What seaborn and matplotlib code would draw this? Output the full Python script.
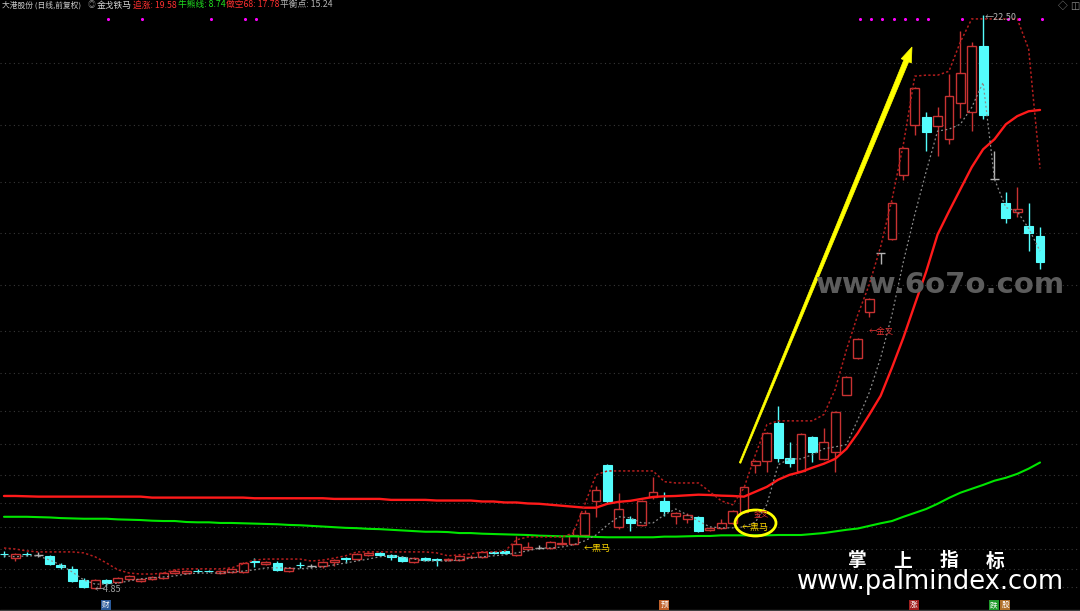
import matplotlib
matplotlib.use("Agg")
import matplotlib.pyplot as plt
import numpy as np
import pandas as pd
import seaborn as sns
from matplotlib.patches import Ellipse, Polygon

# ---- data (daily candles, 大港股份) ----
opens = [5.93, 5.80, 5.93, 5.90, 5.87, 5.59, 5.47, 5.13, 4.88, 5.13,
         5.07, 5.16, 5.10, 5.16, 5.19, 5.34, 5.34, 5.40, 5.40, 5.34,
         5.37, 5.37, 5.69, 5.62, 5.65, 5.40, 5.59, 5.56, 5.56, 5.68,
         5.78, 5.77, 5.90, 5.96, 5.90, 5.84, 5.68, 5.80, 5.77, 5.74,
         5.74, 5.83, 5.84, 5.99, 6.02, 5.90, 6.08, 6.11, 6.11, 6.24,
         6.24, 6.51, 7.56, 8.67, 6.76, 7.01, 6.82, 7.68, 7.56, 7.10,
         7.01, 7.07, 6.67, 6.73, 6.88, 7.22, 8.67, 8.79, 9.96, 8.88,
         8.48, 9.53, 8.85, 9.07, 10.83, 11.96, 13.38, 15.17, 15.60, 17.57,
         19.11, 19.36, 19.08, 18.68, 19.79, 19.51, 21.54, 17.45, 16.71, 16.43,
         16.00, 15.69]
highs = [6.02, 5.96, 5.99, 5.99, 5.90, 5.65, 5.56, 5.19, 5.16, 5.16,
         5.22, 5.28, 5.19, 5.25, 5.37, 5.47, 5.43, 5.47, 5.44, 5.43,
         5.50, 5.68, 5.80, 5.71, 5.71, 5.53, 5.68, 5.62, 5.71, 5.77,
         5.84, 5.96, 5.99, 5.99, 5.93, 5.87, 5.84, 5.84, 5.80, 5.80,
         5.90, 5.90, 6.02, 6.02, 6.05, 6.48, 6.30, 6.21, 6.33, 6.45,
         6.70, 7.28, 8.02, 8.70, 7.81, 7.10, 7.59, 8.30, 7.84, 7.22,
         7.19, 7.10, 6.76, 7.01, 7.28, 8.02, 8.82, 9.68, 10.49, 9.38,
         9.65, 9.56, 9.81, 10.33, 11.41, 12.58, 13.81, 15.17, 16.74, 18.43,
         20.28, 19.51, 19.66, 20.68, 22.01, 21.67, 22.50, 18.31, 17.05, 17.20,
         16.71, 15.97]
lows = [5.84, 5.71, 5.87, 5.84, 5.59, 5.47, 5.07, 4.88, 4.85, 4.94,
        5.04, 5.13, 5.07, 5.13, 5.16, 5.31, 5.31, 5.34, 5.36, 5.31,
        5.34, 5.34, 5.53, 5.59, 5.40, 5.37, 5.50, 5.50, 5.50, 5.56,
        5.65, 5.74, 5.87, 5.87, 5.74, 5.68, 5.65, 5.71, 5.56, 5.71,
        5.71, 5.80, 5.80, 5.93, 5.93, 5.87, 6.05, 6.08, 6.08, 6.21,
        6.21, 6.45, 7.07, 7.50, 6.70, 6.64, 6.79, 7.62, 7.10, 6.85,
        6.88, 6.61, 6.64, 6.70, 6.85, 7.19, 8.42, 8.45, 8.76, 8.61,
        8.45, 8.76, 8.82, 8.45, 10.80, 11.93, 13.20, 14.83, 15.57, 17.42,
        18.80, 18.31, 18.16, 18.53, 19.33, 18.93, 19.30, 17.45, 16.09, 16.28,
        15.23, 14.68]
closes = [5.92, 5.93, 5.92, 5.90, 5.62, 5.53, 5.10, 4.91, 5.13, 5.03,
          5.19, 5.25, 5.16, 5.22, 5.34, 5.40, 5.40, 5.39, 5.39, 5.40,
          5.47, 5.65, 5.68, 5.68, 5.44, 5.50, 5.58, 5.56, 5.68, 5.74,
          5.77, 5.93, 5.96, 5.90, 5.84, 5.71, 5.80, 5.74, 5.74, 5.77,
          5.87, 5.84, 5.99, 5.96, 5.96, 6.24, 6.14, 6.11, 6.30, 6.27,
          6.51, 7.19, 7.90, 7.56, 7.31, 6.88, 7.56, 7.84, 7.25, 7.19,
          7.13, 6.64, 6.73, 6.88, 7.25, 7.99, 8.79, 9.65, 8.88, 8.73,
          9.62, 9.07, 9.38, 10.30, 11.38, 12.55, 13.78, 15.17, 16.71, 18.40,
          20.25, 18.89, 19.39, 20.00, 20.71, 21.54, 19.42, 17.45, 16.25, 16.52,
          15.81, 14.92]

# indicator lines
zhuizhang = [7.71, 7.71, 7.70, 7.69, 7.69, 7.69, 7.69, 7.69, 7.69, 7.69,
             7.69, 7.69, 7.69, 7.66, 7.66, 7.66, 7.66, 7.66, 7.66, 7.66,
             7.66, 7.66, 7.64, 7.64, 7.64, 7.64, 7.64, 7.64, 7.64, 7.62,
             7.62, 7.62, 7.62, 7.62, 7.59, 7.59, 7.59, 7.59, 7.57, 7.57,
             7.57, 7.57, 7.54, 7.54, 7.51, 7.51, 7.48, 7.47, 7.44, 7.41,
             7.38, 7.35, 7.35, 7.47, 7.53, 7.56, 7.62, 7.68, 7.70, 7.71,
             7.73, 7.75, 7.74, 7.72, 7.71, 7.69, 7.84, 7.99, 8.21, 8.36,
             8.45, 8.58, 8.70, 8.85, 9.16, 9.65, 10.21, 10.79, 11.66, 12.58,
             13.60, 14.61, 15.75, 16.46, 17.14, 17.82, 18.37, 18.68, 19.14, 19.39,
             19.54, 19.58]
niuxiong = [7.07, 7.07, 7.07, 7.06, 7.05, 7.03, 7.02, 7.01, 7.01, 7.01,
            6.99, 6.98, 6.97, 6.95, 6.94, 6.94, 6.91, 6.90, 6.90, 6.88,
            6.88, 6.87, 6.86, 6.85, 6.84, 6.82, 6.81, 6.79, 6.77, 6.75,
            6.73, 6.72, 6.70, 6.69, 6.67, 6.65, 6.63, 6.61, 6.61, 6.60,
            6.57, 6.57, 6.55, 6.54, 6.53, 6.52, 6.51, 6.49, 6.48, 6.47,
            6.47, 6.46, 6.45, 6.44, 6.44, 6.44, 6.44, 6.44, 6.46, 6.46,
            6.47, 6.48, 6.48, 6.50, 6.50, 6.50, 6.50, 6.50, 6.51, 6.51,
            6.51, 6.54, 6.57, 6.62, 6.67, 6.71, 6.79, 6.87, 6.94, 7.07,
            7.19, 7.31, 7.47, 7.65, 7.81, 7.93, 8.05, 8.18, 8.27, 8.39,
            8.55, 8.74]
zuokong68 = [6.11, 6.08, 6.02, 5.99, 5.99, 5.99, 5.99, 5.96, 5.84, 5.65,
             5.44, 5.34, 5.31, 5.31, 5.34, 5.44, 5.47, 5.47, 5.47, 5.47,
             5.50, 5.62, 5.74, 5.77, 5.77, 5.77, 5.77, 5.71, 5.74, 5.80,
             5.87, 5.99, 5.99, 5.99, 5.99, 5.99, 5.99, 5.99, 5.96, 5.87,
             5.90, 5.93, 5.99, 5.99, 6.02, 6.36, 6.45, 6.45, 6.45, 6.45,
             6.57, 7.44, 8.36, 8.48, 8.48, 8.48, 8.48, 8.48, 8.15, 8.11,
             8.11, 8.11, 7.84, 7.56, 7.44, 7.96, 8.98, 9.90, 10.02, 10.02,
             10.02, 10.02, 10.21, 10.98, 12.21, 13.29, 14.21, 15.38, 16.83, 18.53,
             20.62, 20.65, 20.65, 20.77, 21.67, 22.38, 22.38, 22.38, 22.38, 22.38,
             21.45, 17.78]
pinghengdian = [5.87, 5.84, 5.87, 5.87, 5.74, 5.59, 5.37, 5.13, 5.00, 5.00,
                5.03, 5.10, 5.16, 5.19, 5.22, 5.25, 5.31, 5.34, 5.34, 5.34,
                5.37, 5.40, 5.44, 5.50, 5.50, 5.50, 5.47, 5.50, 5.53, 5.59,
                5.65, 5.71, 5.77, 5.84, 5.87, 5.84, 5.77, 5.71, 5.71, 5.71,
                5.74, 5.80, 5.84, 5.87, 5.90, 5.96, 6.02, 6.11, 6.11, 6.14,
                6.21, 6.33, 6.51, 6.82, 7.07, 7.04, 6.88, 6.88, 7.13, 7.31,
                7.13, 6.94, 6.76, 6.73, 6.73, 6.76, 6.91, 7.44, 8.67, 8.85,
                8.85, 8.98, 9.16, 9.22, 9.29, 10.06, 10.89, 11.96, 13.29, 14.92,
                16.37, 17.69, 18.93, 18.99, 19.14, 19.66, 20.43, 17.45, 16.58, 16.46,
                15.94, 15.24]

grid_levels = [21.02, 19.12, 17.36, 15.80, 14.20, 12.78, 11.49, 10.32, 9.31,
               8.35, 7.50, 6.76, 6.08, 5.47, 4.91]
signal_days = [9, 12, 18, 21, 22, 75, 76, 77, 78, 79, 80, 81, 84, 88, 89, 91]

df = pd.DataFrame({"open": opens, "high": highs, "low": lows, "close": closes,
                   "zz": zhuizhang, "nx": niuxiong, "zk": zuokong68,
                   "phd": pinghengdian})
df["day"] = np.arange(len(df))

# ---- pixel <-> data mapping of the terminal window ----
W, H = 1080, 611
X0, DX = 4.0, 11.385          # px of first candle, px per candle
Y_HI, PY_HI, K = 22.50, 15.0, 0.03075   # price at px row, price per px


def px2x(px):
    return (px - X0) / DX


def py2y(py):
    return Y_HI - (py - PY_HI) * K


RED = "#c83232"
CYAN = "#54fcfc"
GREY = "#b4b4b4"

sns.set_theme(style="dark", rc={"axes.facecolor": "black",
                                "figure.facecolor": "black"})
plt.rcParams["font.family"] = ["Noto Sans CJK SC", "DejaVu Sans"]
plt.rcParams["axes.unicode_minus"] = False

fig = plt.figure(figsize=(W / 100, H / 100), dpi=100, facecolor="black")
ax = fig.add_axes([0, 0, 1, 1])
ax.set_facecolor("black")

# dotted price grid
ax.hlines(grid_levels, px2x(0), px2x(W), colors="#383838",
          linestyles=(0, (1, 3)), linewidth=0.8, zorder=0)

# candles
bw = 0.78
for r in df.itertuples():
    if r.close > r.open:
        col = RED
    elif r.close < r.open:
        col = CYAN
    else:
        col = GREY
    top, bot = max(r.open, r.close), min(r.open, r.close)
    if col == RED:
        ax.vlines(r.day, top, r.high, color=col, lw=1, zorder=2)
        ax.vlines(r.day, r.low, bot, color=col, lw=1, zorder=2)
        ax.bar(r.day, top - bot, bottom=bot, width=bw, facecolor="black",
               edgecolor=col, linewidth=1, zorder=3)
    elif col == CYAN:
        ax.vlines(r.day, r.low, r.high, color=col, lw=1, zorder=2)
        ax.bar(r.day, max(top - bot, 0.02), bottom=bot, width=bw,
               facecolor=col, edgecolor=col, linewidth=0.8, zorder=3)
    else:
        ax.vlines(r.day, r.low, r.high, color=col, lw=1, zorder=2)
        ax.hlines(r.open, r.day - bw / 2, r.day + bw / 2, color=col, lw=1,
                  zorder=3)

# indicator lines
sns.lineplot(data=df, x="day", y="nx", ax=ax, color="#00e600", lw=1.5,
             zorder=4, legend=False)
sns.lineplot(data=df, x="day", y="zz", ax=ax, color="#ff1a1a", lw=1.7,
             zorder=4, legend=False)
sns.lineplot(data=df, x="day", y="zk", ax=ax, color="#b41e1e", lw=1.1,
             linestyle=(0, (1.5, 1.5)), zorder=4, legend=False)
sns.lineplot(data=df, x="day", y="phd", ax=ax, color="#8c8c8c", lw=0.9,
             linestyle=(0, (1.5, 2)), zorder=4, legend=False)

# magenta signal dots along the top
sns.scatterplot(x=[d + 0.15 for d in signal_days],
                y=[py2y(19)] * len(signal_days), ax=ax, color="#ff00ff",
                s=5, linewidth=0, zorder=5, legend=False)

ax.set_xlim(px2x(0), px2x(W))
ax.set_ylim(py2y(H), py2y(0))
ax.axis("off")

# yellow tapered arrow
s = np.array([740.0, 463.0])
t = np.array([912.0, 47.0])
u = (t - s) / np.linalg.norm(t - s)
n = np.array([-u[1], u[0]])
b = t - 15 * u
pts_px = [s + 0.8 * n, b + 2.6 * n, b + 5.5 * n, t, b - 5.5 * n,
          b - 2.6 * n, s - 0.8 * n]
pts = [(px2x(p[0]), py2y(p[1])) for p in pts_px]
ax.add_patch(Polygon(pts, closed=True, facecolor="#ffff00",
                     edgecolor="#ffff00", lw=0.5, zorder=6))

# yellow ellipse around the signal
ax.add_patch(Ellipse((px2x(755.5), py2y(523)), width=41 / DX,
                     height=26 * K, fill=False, edgecolor="#ffff00",
                     lw=2, zorder=6))


def txt(x, y, s, color, size=7.2, **kw):
    fig.text(x / W, 1 - y / H, s, color=color, fontsize=size,
             ha=kw.pop("ha", "left"), va=kw.pop("va", "center"), **kw)


# labels on the chart
txt(95, 590, "←4.85", "#a0a0a0", 6.5)
txt(985, 17, "←22.50", "#b4b4b4", 6.5)
txt(584, 548, "←黑马", "#ffd700", 6.5)
txt(754, 515, "金叉", "#e03030", 5.5)
txt(742, 527, "←黑马", "#ffd700", 6.5)
txt(869, 331, "←金叉", "#e03030", 6)

# title bar
TS = 6.3
txt(2, 5, "大港股份 (日线,前复权)", "#c8c8c8", 5.6)
txt(88, 5, "◎", "#909090", 5.6)
txt(97, 5, "金戈铁马", "#d8d8d8", TS)
txt(133, 5, "追涨: 19.58", "#ff3030", TS)
txt(178, 5, "牛熊线: 8.74", "#20e020", TS)
txt(226, 5, "做空68: 17.78", "#ff3030", TS)
txt(280, 5, "平衡点: 15.24", "#b4b4b4", TS)
txt(1063, 6, "◇", "#8c8c8c", 7, ha="center")
txt(1075, 6, "◫", "#8c8c8c", 7, ha="center")

# watermarks
txt(941, 285, "www.6o7o.com", "#5c5c5c", 21, ha="center",
    family="DejaVu Sans", fontweight="bold")
for cx, ch in zip([857, 903, 949, 995], "掌上指标"):
    txt(cx, 561, ch, "#ffffff", 13.5, ha="center", fontweight="bold")
txt(930, 582, "www.palmindex.com", "#ffffff", 18.5, ha="center",
    family="DejaVu Sans")

# small event badges under the candles
badges = [(106, "财", "#2a5a9a"), (664, "预", "#c0602a"),
          (914, "涨", "#a01e1e"), (994, "跌", "#1e9a2a"),
          (1005, "股", "#b0702a")]
for bx, ch, bg in badges:
    txt(bx, 605, ch, "#ffffff", 5.5, ha="center",
        bbox=dict(boxstyle="square,pad=0.12", facecolor=bg, edgecolor="none"))

fig.add_artist(plt.Line2D([0, 1], [0.8 / H, 0.8 / H], color="#404040",
                          lw=1, transform=fig.transFigure))

fig.savefig("out.png", dpi=100, facecolor="black")
